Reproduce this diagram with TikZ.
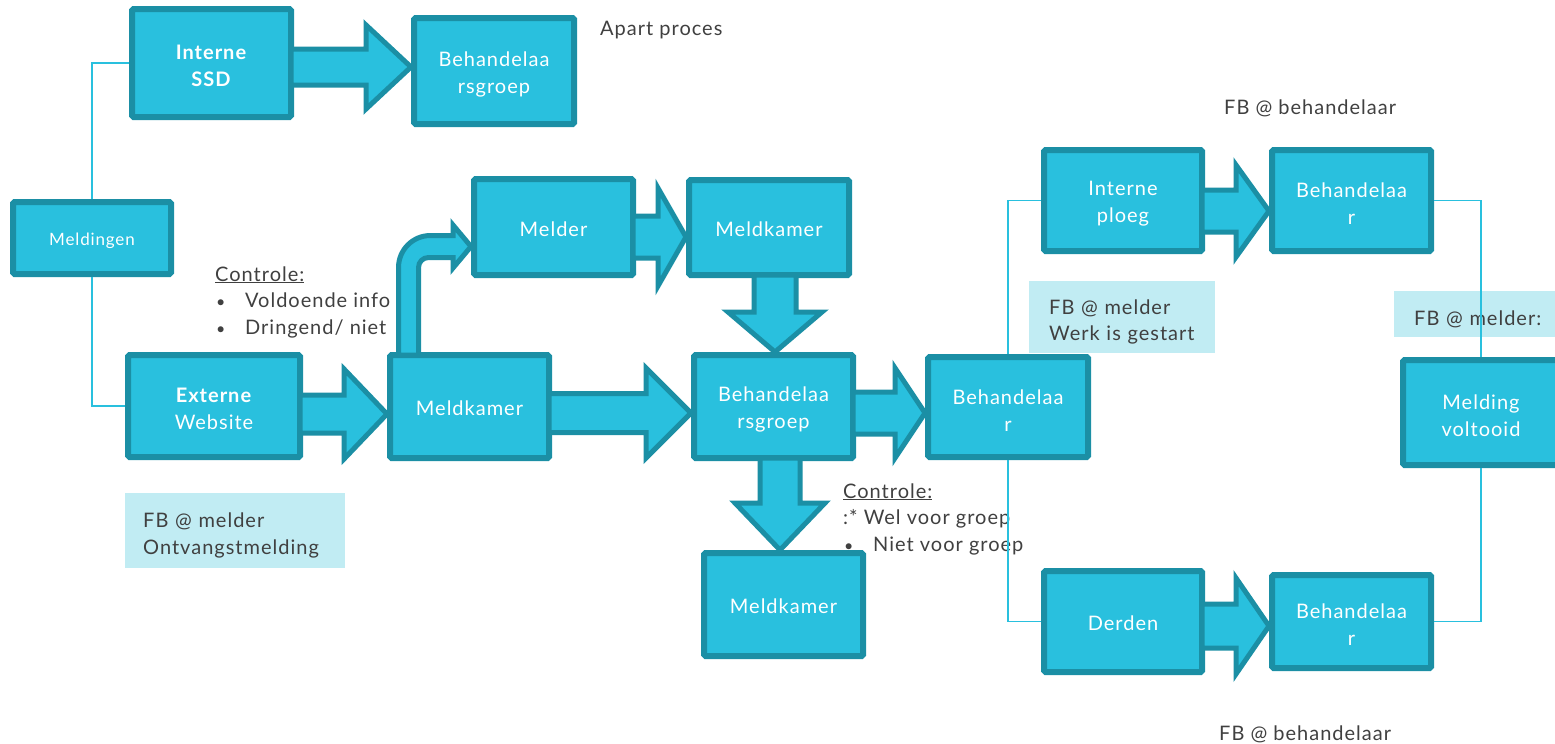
\documentclass[tikz,border=0pt]{standalone}
\usepackage{fontspec}
\setmainfont{Lato}[LetterSpace=5]
\usetikzlibrary{calc}
\definecolor{cy}{HTML}{29C0DE}
\definecolor{dk}{HTML}{1B8FA5}
\definecolor{lt}{HTML}{C1ECF3}
\definecolor{gr}{HTML}{404040}
\tikzset{
 box/.style={draw=dk, fill=cy, line width=6pt, rounded corners=1.5pt, text=white, align=center, font=\fontsize{20}{27}\selectfont, inner sep=0pt, execute at begin node={\rule{0pt}{19pt}}},
 blk/.style={draw=dk, fill=cy, line width=5pt, line join=miter},
 conn/.style={draw=cy, line width=1.6pt},
 lbl/.style={text=gr, font=\fontsize{20}{26.5}\selectfont, inner sep=0pt, align=left, anchor=west},
 lightbox/.style={fill=lt, text=gr, font=\fontsize{20}{26.5}\selectfont, align=left, inner ysep=0pt, anchor=north west, execute at begin node={\rule{0pt}{24pt}}}
}
\newcommand\st{\rule{0pt}{21pt}}
\newcommand\hblock[6]{\draw[blk] let \p1=(#1.east), \p2=(#2.west) in
 (\x1-3pt,-#3pt+#4pt) -- (\x2-#6pt,-#3pt+#4pt) -- (\x2-#6pt,-#3pt+#5pt) -- (\x2,-#3pt) -- (\x2-#6pt,-#3pt-#5pt) -- (\x2-#6pt,-#3pt-#4pt) -- (\x1-3pt,-#3pt-#4pt) -- cycle;}
\newcommand\vblock[6]{\draw[blk] let \p1=(#1.south), \p2=(#2.north) in
 (#3pt-#4pt,\y1+3pt) -- (#3pt-#4pt,\y2+#6pt) -- (#3pt-#5pt,\y2+#6pt) -- (#3pt,\y2) -- (#3pt+#5pt,\y2+#6pt) -- (#3pt+#4pt,\y2+#6pt) -- (#3pt+#4pt,\y1+3pt) -- cycle;}
\newcommand\bul{\makebox[30pt][l]{\hspace{1pt}\scalebox{0.8}{•}}}
\begin{document}
\begin{tikzpicture}[x=1pt,y=-1pt]
\useasboundingbox (0,0) rectangle (1555,744);
% light boxes
\node[lightbox, minimum width=220pt, minimum height=75pt, inner xsep=18pt, text width=184pt] (lb1) at (125,493) {FB @ melder\\Ontvangstmelding};
\node[lightbox, minimum width=186pt, minimum height=72pt, inner xsep=20pt, text width=146pt] (lb2) at (1029,281) {FB @ melder\\Werk is gestart};
\node[lightbox, minimum width=190pt, minimum height=46pt, inner xsep=20pt, text width=150pt] (lb3) at (1394,291) {FB @ melder:};
% labels
\node[lbl] (ap) at (600,30) {Apart proces};
\node[lbl] (fb1) at (1224,108) {FB @ behandelaar};
\node[lbl] (fb2) at (1219,734) {FB @ behandelaar};
\node[lbl] (c1) at (215,302) {\underline{Controle:}\\\bul Voldoende info\\\bul Dringend/ niet};
\node[lbl] (c2) at (843,519) {\underline{Controle:}\\:* Wel voor groep\\\bul Niet voor groep};
% boxes
\node[box, minimum width=158pt, minimum height=72pt, font=\fontsize{17}{22}\selectfont] (meld) at (92,238) {Meldingen};
\node[box, minimum width=159pt, minimum height=108pt] (ssd) at (211.5,63) {\st\textbf{Interne}\\\textbf{SSD}};
\node[box, minimum width=160pt, minimum height=106pt] (bg1) at (494,71) {\st Behandelaa\\rsgroep};
\node[box, minimum width=159pt, minimum height=96pt] (melder) at (553.5,227) {Melder};
\node[box, minimum width=160pt, minimum height=95pt] (mk1) at (769,227.5) {Meldkamer};
\node[box, minimum width=172pt, minimum height=102pt] (ext) at (214,406) {\st\textbf{Externe}\\Website};
\node[box, minimum width=159pt, minimum height=103pt] (mk2) at (469.5,406.5) {Meldkamer};
\node[box, minimum width=159pt, minimum height=103pt] (bg2) at (773.5,406.5) {\st Behandelaa\\rsgroep};
\node[box, minimum width=159pt, minimum height=103pt] (mk3) at (783.5,604.5) {Meldkamer};
\node[box, minimum width=160pt, minimum height=100pt] (beh) at (1008,407) {\st Behandelaa\\r};
\node[box, minimum width=158pt, minimum height=101pt] (ip) at (1123,200.5) {\st Interne\\ploeg};
\node[box, minimum width=159pt, minimum height=101pt] (behtr) at (1351.5,200.5) {\st Behandelaa\\r};
\node[box, minimum width=156pt, minimum height=105pt] (vol) at (1481,412.5) {\st Melding\\voltooid};
\node[box, minimum width=158pt, minimum height=101pt] (derden) at (1123,621.5) {Derden};
\node[box, minimum width=159pt, minimum height=93pt] (behbr) at (1351.5,621.5) {\st Behandelaa\\r};
% connectors
\draw[conn] (meld.north) |- (ssd.west);
\draw[conn] (meld.south) |- (ext.west);
\draw[conn] (beh.north) |- (ip.west);
\draw[conn] (beh.south) |- (derden.west);
\draw[conn] (behtr.east) -| (vol.north);
\draw[conn] (behbr.east) -| (vol.south);
% block arrows
\hblock{ssd}{bg1}{67}{18}{42}{45}
\hblock{ext}{mk2}{414}{19}{45}{43}
\hblock{mk2}{bg2}{413}{19.5}{45}{45}
\hblock{melder}{mk1}{237}{21}{49}{28}
\hblock{bg2}{beh}{413}{21}{45}{30}
\hblock{ip}{behtr}{211}{21}{46}{33}
\hblock{derden}{behbr}{626}{22}{48}{33}
\vblock{mk1}{bg2}{775}{21}{47}{40}
\vblock{bg2}{mk3}{780}{20}{45}{47}
\draw[blk] let \p1=(mk2.north), \p2=(melder.west) in
 (398.5pt,\y1-3pt) -- (398.5pt,-267.5pt) arc[start angle=180, end angle=90, radius=32pt]
 -- (453pt,-235.5pt) -- (453pt,-225pt) -- (\x2,-246.5pt) -- (453pt,-268pt) -- (453pt,-257.5pt)
 -- (428.5pt,-257.5pt) arc[start angle=90, end angle=180, radius=10pt] -- (418.5pt,\y1-3pt) -- cycle;
\end{tikzpicture}
\end{document}
